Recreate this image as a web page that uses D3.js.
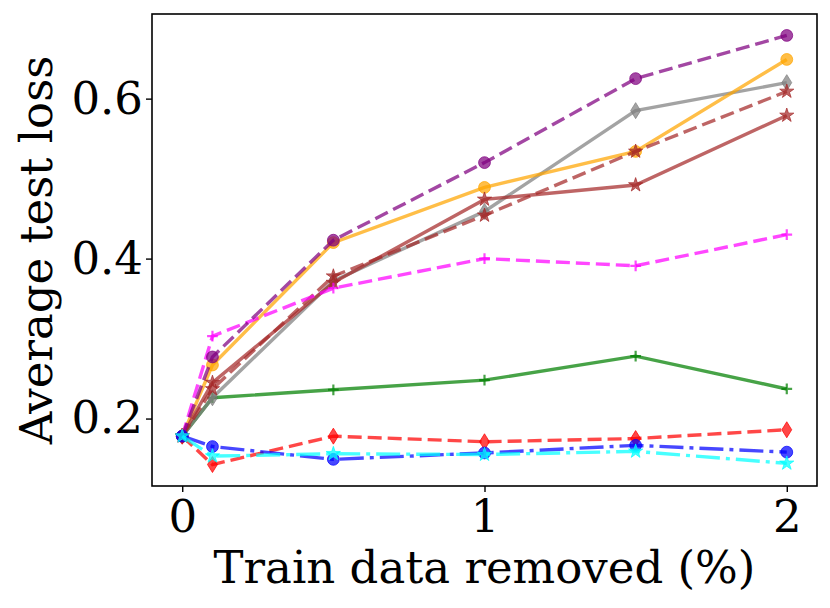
<!DOCTYPE html>
<html>
<head>
<meta charset="utf-8">
<script src="https://cdn.jsdelivr.net/npm/d3@7"></script>
<style>
  body { margin: 0; background: #fff; }
  svg { display: block; }
  text { font-family: "DejaVu Serif", serif; fill: #000; }
</style>
</head>
<body>
<svg id="chart" width="830" height="608"></svg>
<script>
// x positions (% of train data removed)
const removed = [0, 0.1, 0.5, 1, 1.5, 2];
const xTicks = [0, 1, 2];
const yTicks = [0.2, 0.4, 0.6];

// series values
const greenPlus    = [0.178, 0.226, 0.236, 0.248, 0.278, 0.237];
const grayDiamond  = [0.178, 0.226, 0.372, 0.459, 0.585, 0.620];
const orangeCircle = [0.178, 0.267, 0.420, 0.489, 0.534, 0.649];
const brownStar    = [0.178, 0.245, 0.370, 0.474, 0.492, 0.579];
const brownStarDash = [0.178, 0.237, 0.378, 0.454, 0.534, 0.609];
const magentaPlus  = [0.178, 0.303, 0.363, 0.400, 0.391, 0.430];
const purpleCircle = [0.178, 0.277, 0.423, 0.520, 0.625, 0.679];
const redDiamond   = [0.178, 0.1425, 0.178, 0.171, 0.175, 0.186];
const blueCircle   = [0.178, 0.165, 0.149, 0.157, 0.1665, 0.158];
const cyanStar     = [0.178, 0.153, 0.156, 0.155, 0.159, 0.144];

const series = [
  {values: greenPlus, color: 'green', dash: null, marker: 'plus'},
  {values: grayDiamond, color: 'gray', dash: null, marker: 'thin_diamond'},
  {values: orangeCircle, color: 'orange', dash: null, marker: 'circle'},
  {values: brownStar, color: 'brown', dash: null, marker: 'star'},
  {values: brownStarDash, color: 'brown', dash: '14,6', marker: 'star'},
  {values: magentaPlus, color: 'magenta', dash: '14,6', marker: 'plus'},
  {values: purpleCircle, color: 'purple', dash: '14,6', marker: 'circle'},
  {values: redDiamond, color: 'red', dash: '14,6', marker: 'thin_diamond'},
  {values: blueCircle, color: 'blue', dash: '24,6,4,6', marker: 'circle'},
  {values: cyanStar, color: 'cyan', dash: '24,6,4,6', marker: 'star'}
];

const margin = {top: 14, right: 13, bottom: 122, left: 152};
const width = 830 - margin.left - margin.right;
const height = 608 - margin.top - margin.bottom;

const svg = d3.select('#chart');
const g = svg.append('g').attr('transform', `translate(${margin.left},${margin.top})`);

const allY = series.flatMap(s => s.values);
const [yMin, yMax] = d3.extent(allY);
const yPad = (yMax - yMin) * 0.05;
const [xMin, xMax] = d3.extent(removed);
const xPad = (xMax - xMin) * 0.05;

const x = d3.scaleLinear().domain([xMin - xPad, xMax + xPad]).range([0, width]);
const y = d3.scaleLinear().domain([yMin - yPad, yMax + yPad]).range([height, 0]);

// marker shapes
const thinDiamond = {
  draw(ctx, size) {
    const h = Math.sqrt(size) / 2, w = h * 0.62;
    ctx.moveTo(0, -h); ctx.lineTo(w, 0); ctx.lineTo(0, h); ctx.lineTo(-w, 0); ctx.closePath();
  }
};
const plusLine = {
  draw(ctx, size) {
    const r = Math.sqrt(size) / 2;
    ctx.moveTo(-r, 0); ctx.lineTo(r, 0); ctx.moveTo(0, -r); ctx.lineTo(0, r);
  }
};
const markerPath = {
  circle: d3.symbol(d3.symbolCircle, 110)(),
  star: d3.symbol(d3.symbolStar, 62)(),
  thin_diamond: d3.symbol(thinDiamond, 256)(),
  plus: d3.symbol(plusLine, 115)()
};

const line = d3.line()
  .x((d, i) => x(removed[i]))
  .y(d => y(d));

const plot = g.append('g');

series.forEach(s => {
  const sg = plot.append('g');
  sg.append('path')
    .attr('d', line(s.values))
    .attr('fill', 'none')
    .attr('stroke', s.color)
    .attr('stroke-opacity', 0.72)
    .attr('stroke-width', 3.4)
    .attr('stroke-dasharray', s.dash);

  sg.selectAll('.mk')
    .data(s.values)
    .join('path')
    .classed('mk', true)
    .attr('transform', (d, i) => `translate(${x(removed[i])},${y(d)})`)
    .attr('d', markerPath[s.marker])
    .attr('fill', s.marker === 'plus' ? 'none' : s.color)
    .attr('fill-opacity', 0.72)
    .attr('stroke', s.color)
    .attr('stroke-opacity', 0.72)
    .attr('stroke-width', s.marker === 'plus' ? 2.2 : 1);
});

// frame
g.append('rect')
  .attr('width', width)
  .attr('height', height)
  .attr('fill', 'none')
  .attr('stroke', '#000')
  .attr('stroke-width', 1.6);

const xAxis = g.append('g')
  .attr('transform', `translate(0,${height})`)
  .call(d3.axisBottom(x).tickValues(xTicks).tickFormat(d3.format('d')).tickSize(6).tickPadding(8));
const yAxis = g.append('g')
  .call(d3.axisLeft(y).tickValues(yTicks).tickFormat(d3.format('.1f')).tickSize(6).tickPadding(3));

[xAxis, yAxis].forEach(a => {
  a.select('.domain').remove();
  a.selectAll('line').attr('stroke', '#000').attr('stroke-width', 1.4);
  a.selectAll('text').style('font-family', '"DejaVu Serif", serif').style('font-size', '45px').attr('fill', '#000');
});

svg.append('text')
  .attr('x', margin.left + width / 2)
  .attr('y', 583)
  .attr('text-anchor', 'middle')
  .style('font-size', '45px')
  .text('Train data removed (%)');

svg.append('text')
  .attr('transform', `translate(52,${margin.top + height / 2}) rotate(-90)`)
  .attr('text-anchor', 'middle')
  .style('font-size', '45px')
  .text('Average test loss');
</script>
</body>
</html>
